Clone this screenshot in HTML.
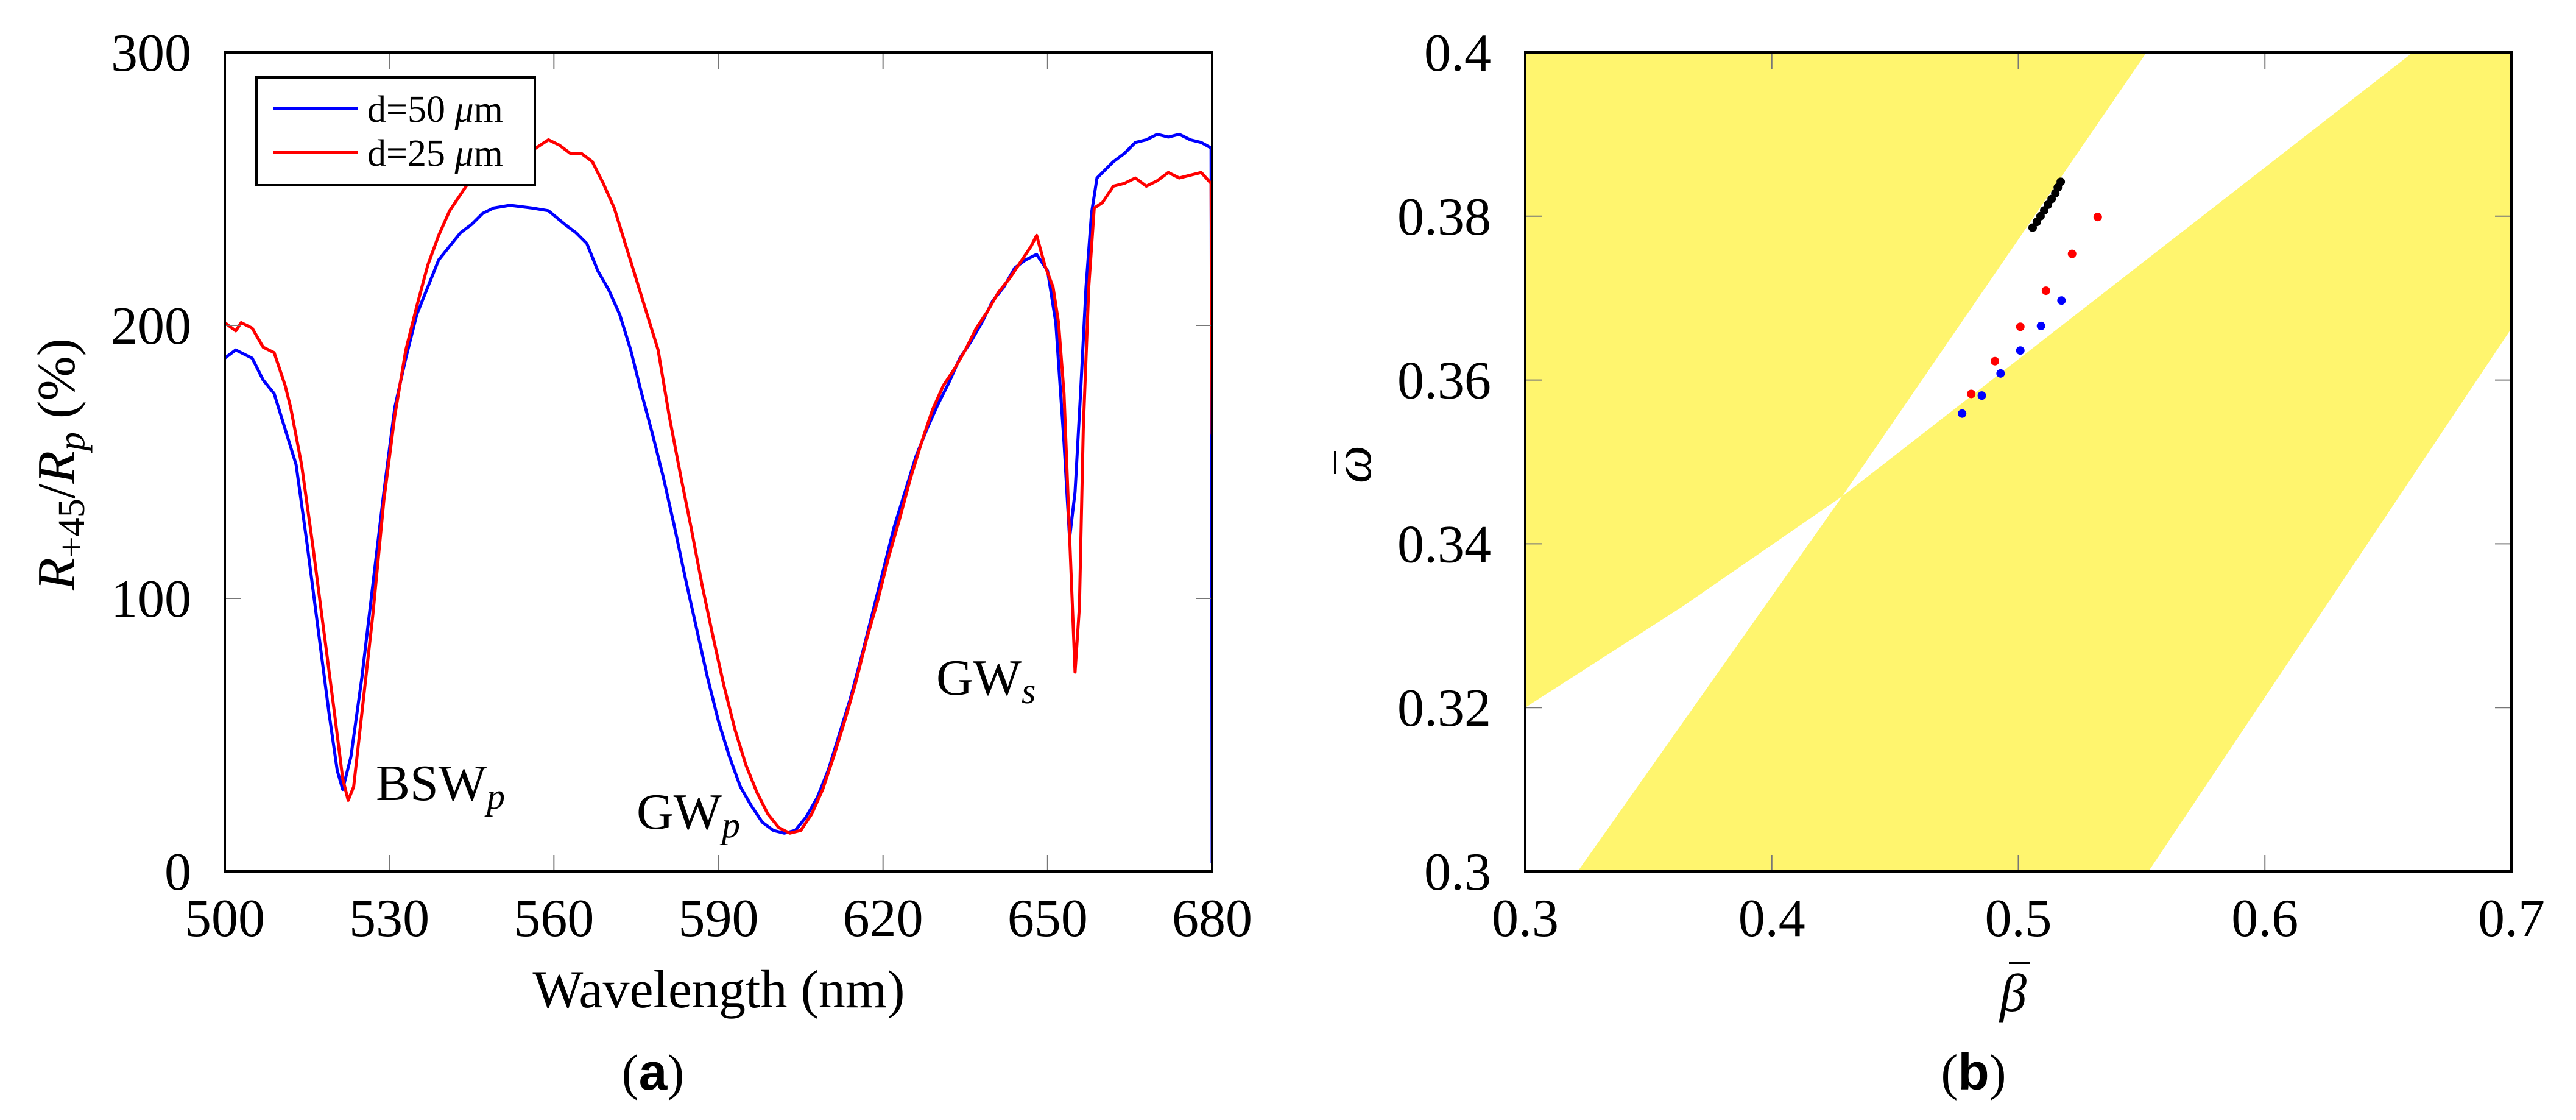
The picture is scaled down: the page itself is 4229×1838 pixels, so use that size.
<!DOCTYPE html>
<html><head><meta charset="utf-8"><style>
html,body{margin:0;padding:0;background:#fff;}
svg{display:block;}
text{font-family:"Liberation Serif",serif;fill:#000;}
</style></head><body>
<svg id="fig" width="4229" height="1838" viewBox="0 0 4229 1838" xmlns="http://www.w3.org/2000/svg">
<g id="pa"></g>
<g id="pb"></g>
</svg>
<script>
const NS="http://www.w3.org/2000/svg";
// ---- Panel A data ----
const aXTicks=[500,530,560,590,620,650,680];
const aYTicks=[0,100,200,300];
const blueX=[500,502,505,507,509,511,513,515,517,519,520.5,521.5,523,525,527,529,531,533,535,537,539,541,543,545,547,549,552,556,559,562,564,566,568,570,572,574,576,578,580,582,584,586,588,590,592,594,596,598,600,602,604,606,608,610,612,614,616,618,620,622,624,626,628,630,632,634,636,638,640,642,644,646,648,650,651.5,653,654,655,656,657,658,659,660,662,664,666,668,670,672,674,676,678,679.8,680];
const blueY=[188,191,188,180,175,162,149,120,89,58,37,30,42,71,105,139,170,188,204,214,224,229,234,237,241,243,244,243,242,237,234,230,220,213,204,191,175,160,144,126,107,89,71,55,42,31,24,18,15,14,15,20,27,37,50,63,78,94,110,126,139,152,162,171,179,188,194,201,209,214,221,224,226,220,201,157,122,139,175,214,241,254,256,260,263,267,268,270,269,270,268,267,265,3];
const redX=[500,502,503,505,507,509,511,512,514,516,518,520,521.5,522.5,523.5,525,527,529,531,533,535,537,539,541,543,545,547,550,553,556,559,561,563,565,567,569,571,573,575,577,579,581,583,585,587,589,591,593,595,597,599,601,603,605,607,609,611,613,615,617,619,621,623,625,627,629,631,633,635,637,639,641,643,645,647,648,649.5,651,652,653,654,655,655.8,656.5,657.5,658.5,660,662,664,666,668,670,672,674,676,678,679.8,680];
const redY=[201,198,201,199,192,190,178,170,149,120,89,58,34,26,31,58,94,136,167,191,207,222,233,242,248,254,259,263,265,264,268,266,263,263,260,252,243,230,217,204,191,167,146,126,105,86,68,52,39,29,21,16,14,15,21,30,42,55,69,85,99,115,129,144,157,169,178,184,191,199,205,212,217,223,229,233,222,214,201,175,123,73,97,162,214,243,245,251,252,254,251,253,256,254,255,256,252,160];
// ---- Panel B data ----
const bXTicks=[0.3,0.4,0.5,0.6,0.7];
const bYTicks=[0.3,0.32,0.34,0.36,0.38,0.4];
const bXTickLabels=["0.3","0.4","0.5","0.6","0.7"];
const bYTickLabels=["0.3","0.32","0.34","0.36","0.38","0.4"];
const region1B=[0.3,0.3,0.552,0.4286,0.3636,0.3];
const region1W=[0.32,0.4,0.4,0.3458,0.3323,0.32];
const region2B=[0.3213,0.4286,0.66,0.7,0.7,0.5528];
const region2W=[0.3,0.3458,0.4,0.4,0.3663,0.3];
const blackB=[0.5058,0.5075,0.509,0.5105,0.512,0.5135,0.515,0.516,0.5172];
const blackW=[0.3786,0.3793,0.38,0.3807,0.3814,0.3821,0.3828,0.3835,0.3842];
const redB=[0.4809,0.4905,0.5008,0.5112,0.5218,0.5322];
const redW=[0.3583,0.3623,0.3665,0.3709,0.3754,0.3799];
const blueB=[0.4772,0.4852,0.4928,0.5008,0.5092,0.5175];
const blueW=[0.3559,0.3581,0.3608,0.3636,0.3666,0.3697];

function mk(parent,tag,attrs,txt){const e=document.createElementNS(NS,tag);for(const k in attrs)e.setAttribute(k,attrs[k]);if(txt!==undefined)e.textContent=txt;parent.appendChild(e);return e;}

// Panel A
const pa=document.getElementById('pa');
const AL=369,AR=1990,AT=86,AB=1430;
const ax=v=>AL+(v-500)/180*(AR-AL);
const ay=v=>AB-v/300*(AB-AT);
function line(parent,xs,ys,fx,fy,color,name){
  let d="";for(let i=0;i<xs.length;i++)d+=(i?"L":"M")+fx(xs[i]).toFixed(1)+","+fy(ys[i]).toFixed(1);
  const p=mk(parent,'path',{d:d,fill:'none',stroke:color,'stroke-width':5,'stroke-linejoin':'round'});
  
  
}
const clipA=mk(pa,'clipPath',{id:'clipA'});mk(clipA,'rect',{x:AL,y:AT,width:AR-AL,height:AB-AT});
const ga=mk(pa,'g',{'clip-path':'url(#clipA)'});
line(ga,blueX,blueY,ax,ay,'#0000ff','series-d50');
line(ga,redX,redY,ax,ay,'#ff0000','series-d25');
aXTicks.forEach(v=>{
  const x=ax(v);
  mk(pa,'line',{x1:x,x2:x,y1:AB,y2:AB-27,stroke:'#777','stroke-width':2});
  mk(pa,'line',{x1:x,x2:x,y1:AT,y2:AT+27,stroke:'#777','stroke-width':2});
  const t=mk(pa,'text',{x:x,y:1536,'font-size':88,'text-anchor':'middle'},String(v));
  
  
});
aYTicks.forEach(v=>{
  const y=ay(v);
  mk(pa,'line',{x1:AL,x2:AL+27,y1:y,y2:y,stroke:'#777','stroke-width':2});
  mk(pa,'line',{x1:AR,x2:AR-27,y1:y,y2:y,stroke:'#777','stroke-width':2});
  const t=mk(pa,'text',{x:314,y:y+30,'font-size':88,'text-anchor':'end'},String(v));
  
  
});
const fa=mk(pa,'rect',{x:AL,y:AT,width:AR-AL,height:AB-AT,fill:'none',stroke:'#000','stroke-width':4});

// legend
const lg=mk(pa,'g',{});

mk(lg,'rect',{x:421,y:127,width:457,height:177,fill:'#fff',stroke:'#000','stroke-width':4});
mk(lg,'line',{x1:449,x2:588,y1:178,y2:178,stroke:'#0000ff','stroke-width':5});
mk(lg,'line',{x1:449,x2:588,y1:250,y2:250,stroke:'#ff0000','stroke-width':5});
const l1=mk(lg,'text',{x:603,y:200,'font-size':62});l1.innerHTML='d=50 <tspan font-style="italic">μ</tspan>m';

const l2=mk(lg,'text',{x:603,y:272,'font-size':62});l2.innerHTML='d=25 <tspan font-style="italic">μ</tspan>m';

// annotations
function ann(parent,x,y,main,sub,name){const t=mk(parent,'text',{x:x,y:y,'font-size':84});t.innerHTML=main+'<tspan font-style="italic" font-size="60" dy="14">'+sub+'</tspan>';}
ann(pa,617,1313,'BSW','p','annotation-bsw-p');
ann(pa,1045,1360,'GW','p','annotation-gw-p');
ann(pa,1537,1140,'GW','s','annotation-gw-s');
const yl=mk(pa,'text',{x:0,y:0,'font-size':88,'text-anchor':'middle',transform:'translate(122,762) rotate(-90)'});
yl.innerHTML='<tspan font-style="italic">R</tspan><tspan font-size="62" dy="16">+45</tspan><tspan dy="-16">/</tspan><tspan font-style="italic">R</tspan><tspan font-style="italic" font-size="62" dy="16">p</tspan><tspan dy="-16"> (%)</tspan>';

const xl=mk(pa,'text',{x:1180,y:1653,'font-size':88,'text-anchor':'middle'},'Wavelength (nm)');

const ca=mk(pa,'text',{x:1072,y:1788,'font-size':84,'text-anchor':'middle'});ca.innerHTML='(<tspan font-weight="bold" font-family="Liberation Sans, sans-serif">a</tspan>)';


// Panel B
const pb=document.getElementById('pb');
const BL=2504,BR=4123,BT=86,BB=1430;
const bx=v=>BL+(v-0.3)/0.4*(BR-BL);
const by=v=>BB-(v-0.3)/0.1*(BB-BT);
const clipB=mk(pb,'clipPath',{id:'clipB'});mk(clipB,'rect',{x:BL,y:BT,width:BR-BL,height:BB-BT});
const gb=mk(pb,'g',{'clip-path':'url(#clipB)'});
function poly(xs,ys,name){const pts=xs.map((v,i)=>bx(v).toFixed(1)+','+by(ys[i]).toFixed(1)).join(' ');const p=mk(gb,'polygon',{points:pts,fill:'#fff56e'});}
poly(region1B,region1W,'band-region-upper-left');
poly(region2B,region2W,'band-region-lower');
function dots(xs,ys,color,name){xs.forEach((v,i)=>{const c=mk(gb,'circle',{cx:bx(v),cy:by(ys[i]),r:7,fill:color});});}
dots(blackB,blackW,'#000','point-black');
dots(redB,redW,'#ff0000','point-red');
dots(blueB,blueW,'#0000ff','point-blue');
bXTicks.forEach((v,i)=>{
  const x=bx(v);
  mk(pb,'line',{x1:x,x2:x,y1:BB,y2:BB-27,stroke:'#777','stroke-width':2});
  mk(pb,'line',{x1:x,x2:x,y1:BT,y2:BT+27,stroke:'#777','stroke-width':2});
  const t=mk(pb,'text',{x:x,y:1536,'font-size':88,'text-anchor':'middle'},bXTickLabels[i]);
  
  
});
bYTicks.forEach((v,i)=>{
  const y=by(v);
  mk(pb,'line',{x1:BL,x2:BL+27,y1:y,y2:y,stroke:'#777','stroke-width':2});
  mk(pb,'line',{x1:BR,x2:BR-27,y1:y,y2:y,stroke:'#777','stroke-width':2});
  const t=mk(pb,'text',{x:2448,y:y+30,'font-size':88,'text-anchor':'end'},bYTickLabels[i]);
  
  
});
const fb=mk(pb,'rect',{x:BL,y:BT,width:BR-BL,height:BB-BT,fill:'none',stroke:'#000','stroke-width':4});

const ybg=mk(pb,'g',{transform:'translate(2250,762) rotate(-90)'});

mk(ybg,'text',{x:0,y:0,'font-size':88,'text-anchor':'middle','font-style':'italic'},'ω');
mk(ybg,'line',{x1:-16,x2:22,y1:-58,y2:-58,stroke:'#000','stroke-width':4});
const xbg=mk(pb,'g',{});

mk(xbg,'text',{x:3305,y:1659,'font-size':88,'text-anchor':'middle','font-style':'italic'},'β');
mk(xbg,'line',{x1:3298,x2:3332,y1:1580,y2:1580,stroke:'#000','stroke-width':4});
const cb=mk(pb,'text',{x:3240,y:1788,'font-size':84,'text-anchor':'middle'});cb.innerHTML='(<tspan font-weight="bold" font-family="Liberation Sans, sans-serif">b</tspan>)';

</script>
</body></html>
